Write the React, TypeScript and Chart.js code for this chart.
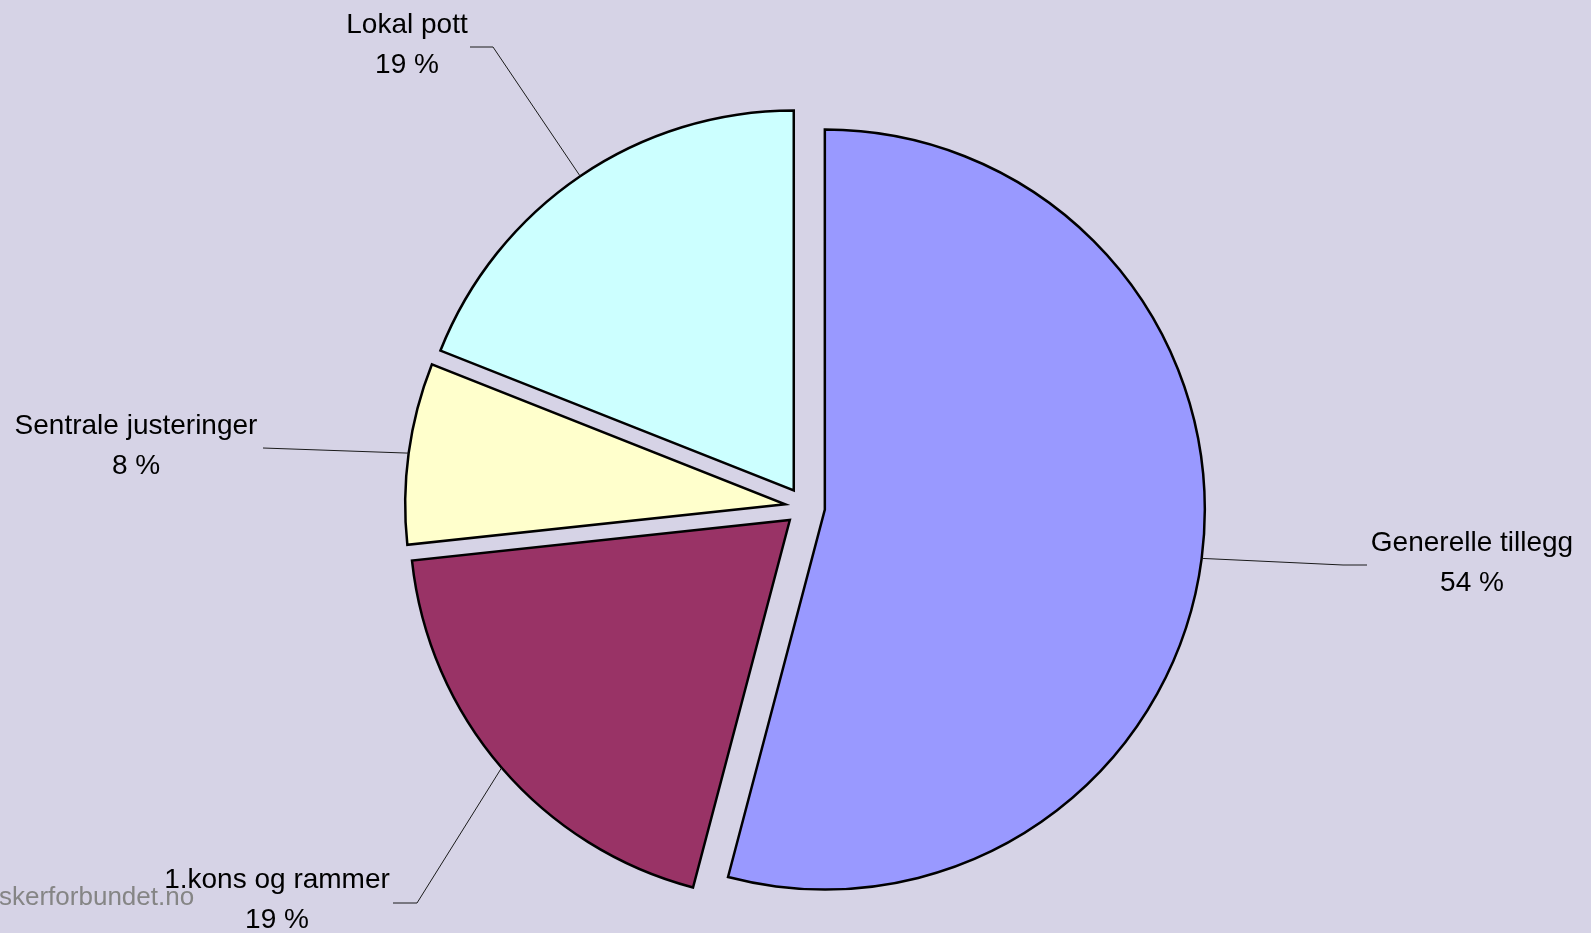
import { useEffect, useRef } from "react";
import { Chart, registerables } from "chart.js";

Chart.register(...registerables);

// ---- data ----
const categories = ["Generelle tillegg", "1.kons og rammer", "Sentrale justeringer", "Lokal pott"];
const shares = [54.1, 19.2, 7.7, 19.0];
const sliceColors = ["#9999FF", "#993366", "#FFFFCC", "#CCFFFF"];
const watermarkText = "skerforbundet.no";

// ---- layout (label text centre / first baseline, leader knee and end) ----
const labelLayout = [
  { tx: 1472, ty: 551, knee: [1343, 565], end: [1367, 565] },
  { tx: 277, ty: 888, knee: [417, 903], end: [393, 903] },
  { tx: 136, ty: 434, knee: [263, 448], end: [263, 448] },
  { tx: 407, ty: 33, knee: [493, 47], end: [470, 47] },
];
const EXPLODE = 20;
const BG = "#D6D3E6";
const FONT = "'Liberation Sans', Arial, sans-serif";

const explodePlugin = {
  id: "explodeSlices",
  afterUpdate(chart: any) {
    const meta = chart.getDatasetMeta(0);
    meta.data.forEach((el: any) => {
      const mid = (el.startAngle + el.endAngle) / 2;
      el.x += Math.cos(mid) * EXPLODE;
      el.y += Math.sin(mid) * EXPLODE;
    });
  },
};

const watermarkPlugin = {
  id: "watermark",
  beforeDatasetsDraw(chart: any) {
    const ctx = chart.ctx;
    ctx.save();
    ctx.fillStyle = "#858585";
    ctx.font = `26px ${FONT}`;
    ctx.textAlign = "left";
    ctx.textBaseline = "alphabetic";
    ctx.fillText(watermarkText, -1, 905);
    ctx.restore();
  },
};

const labelPlugin = {
  id: "pieLabels",
  afterDatasetsDraw(chart: any) {
    const ctx = chart.ctx;
    const meta = chart.getDatasetMeta(0);
    const total = shares.reduce((a, b) => a + b, 0);
    ctx.save();
    meta.data.forEach((el: any, i: number) => {
      const lay = labelLayout[i];
      const mid = (el.startAngle + el.endAngle) / 2;
      const r = el.outerRadius;
      const px = el.x + Math.cos(mid) * r;
      const py = el.y + Math.sin(mid) * r;
      ctx.strokeStyle = "#1a1a1a";
      ctx.lineWidth = 1;
      ctx.beginPath();
      ctx.moveTo(px, py);
      ctx.lineTo(lay.knee[0], lay.knee[1]);
      ctx.lineTo(lay.end[0], lay.end[1]);
      ctx.stroke();
      ctx.fillStyle = "#000";
      ctx.font = `28px ${FONT}`;
      ctx.textAlign = "center";
      ctx.textBaseline = "alphabetic";
      ctx.fillText(categories[i], lay.tx, lay.ty);
      const pct = Math.round((shares[i] / total) * 100);
      ctx.fillText(`${pct} %`, lay.tx, lay.ty + 39.5);
    });
    ctx.restore();
  },
};

export default function App() {
  const canvasRef = useRef<HTMLCanvasElement | null>(null);

  useEffect(() => {
    if (!canvasRef.current) return;
    const chart = new Chart(canvasRef.current, {
      type: "pie",
      data: {
        labels: categories,
        datasets: [
          {
            data: shares,
            backgroundColor: sliceColors,
            borderColor: "#000000",
            borderWidth: 2.5,
            borderJoinStyle: "miter",
          } as any,
        ],
      },
      options: {
        animation: false,
        responsive: true,
        maintainAspectRatio: false,
        events: [],
        radius: 380,
        layout: { padding: { left: 19, top: 81, right: 0, bottom: 0 } },
        plugins: {
          legend: { display: false },
          tooltip: { enabled: false },
          title: { display: false },
        },
      } as any,
      plugins: [explodePlugin, watermarkPlugin, labelPlugin],
    });
    return () => chart.destroy();
  }, []);

  return (
    <div
      style={{
        position: "fixed",
        left: 0,
        top: 0,
        width: 1591,
        height: 933,
        background: BG,
        overflow: "hidden",
      }}
    >
      <canvas ref={canvasRef} />
    </div>
  );
}
